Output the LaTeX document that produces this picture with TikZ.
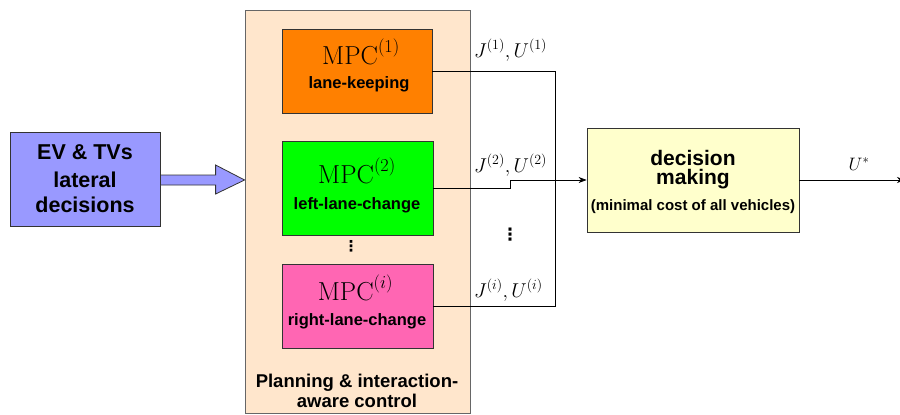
\RequirePackage{fix-cm}
\documentclass[tikz,border=0pt]{standalone}
\usepackage{fontspec}
\setsansfont{Liberation Sans}
\newfontfamily\dejavu{DejaVu Sans}
\usetikzlibrary{arrows.meta,calc}
\definecolor{evblue}{HTML}{9999FF}
\definecolor{planbg}{HTML}{FFE6CC}
\definecolor{mpcorange}{HTML}{FF8000}
\definecolor{mpcgreen}{HTML}{00FF00}
\definecolor{mpcpink}{HTML}{FF66B3}
\definecolor{dmyellow}{HTML}{FFFFCC}
\definecolor{edgegray}{HTML}{333333}
\newcommand\setfs[1]{\fontsize{#1}{#1}\selectfont}
\begin{document}
\begin{tikzpicture}[x=1pt,y=-1pt,
  box/.style={draw=edgegray,line width=0.8pt,inner sep=0pt,minimum width=#1},
  txt/.style={inner sep=0pt,anchor=base},
  bsans/.style={font=\sffamily\bfseries},
  conn/.style={draw=black,line width=0.7pt},
  tip/.style={-{Stealth[length=8pt,width=6pt,inset=2.5pt]}}]
\useasboundingbox (0,0) rectangle (900,415);
% boxes
\node[box=150pt,fill=evblue,minimum height=94pt] (ev) at (85,179) {};
\node[box=225pt,fill=planbg,draw=gray!80!black,minimum height=403pt] (plan) at (357.5,211.5) {};
\node[box=150pt,fill=mpcorange,minimum height=84pt] (mpc1) at (357,71) {};
\node[box=151pt,fill=mpcgreen,minimum height=94pt] (mpc2) at (357.5,188) {};
\node[box=151pt,fill=mpcpink,minimum height=84pt] (mpci) at (357.5,306) {};
\node[box=212pt,fill=dmyellow,minimum height=104pt] (dm) at (693,180) {};
% texts
\node[txt,bsans] (ev1) at (85,159) {\setfs{21.5}EV \& TVs};
\node[txt,bsans] (ev2) at (85,187) {\setfs{21.5}lateral};
\node[txt,bsans] (ev3) at (85,212) {\setfs{21.5}decisions};
\node[txt] (m1a) at (361,64) {\setfs{26}$\mathrm{MPC}^{(1)}$};
\node[txt,bsans] (m1b) at (359,88) {\setfs{16.5}lane-keeping};
\node[txt] (m2a) at (357,183) {\setfs{26}$\mathrm{MPC}^{(2)}$};
\node[txt,bsans] (m2b) at (357,209) {\setfs{16.5}left-lane-change};
\node[txt] (mia) at (355.5,300) {\setfs{26}$\mathrm{MPC}^{(i)}$};
\node[txt,bsans] (mib) at (357,325) {\setfs{16.5}right-lane-change};
\node[txt,bsans] (pl1) at (357,387) {\setfs{18.5}Planning \& interaction-};
\node[txt,bsans] (pl2) at (357,407) {\setfs{18.5}aware control};
\node[txt,bsans] (dm1) at (693,165) {\setfs{21}decision};
\node[txt,bsans] (dm2) at (693,184.5) {\setfs{21}making};
\node[txt,bsans] (dm3) at (693,210) {\setfs{15}(minimal cost of all vehicles)};
\node[inner sep=0pt,font=\dejavu\bfseries] (dots1) at (351,246) {\setfs{15}⋮};
\node[inner sep=0pt,font=\dejavu\bfseries] (dots2) at (510,235) {\setfs{17}⋮};
\node[txt,anchor=base west] (j1) at (474,57) {\setfs{20}$J^{(1)},U^{(1)}$};
\node[txt,anchor=base west] (j2) at (474,172) {\setfs{20}$J^{(2)},U^{(2)}$};
\node[txt,anchor=base west] (ji) at (474,297) {\setfs{20}$J^{(i)},U^{(i)}$};
\node[txt] (us) at (859,170) {\setfs{18}$U^{*}$};
% block arrow
\coordinate (atip) at ($(plan.west|-ev.east)+(0,1)$);
\draw[draw=edgegray,line width=0.8pt,fill=evblue,line join=miter]
  ($(ev.east)+(0,-4)$) -- ($(atip)+(-29,-5)$) -- ($(atip)+(-29,-15)$) -- (atip)
  -- ($(atip)+(-29,14)$) -- ($(atip)+(-29,5)$) -- ($(ev.east)+(0,6)$) -- cycle;
% connectors
\coordinate (rx) at (555,71);
\coordinate (jog) at (510,188);
\coordinate (out) at (905,180);
\draw[conn] (mpc1.east) -- (rx) |- (mpci.east);
\draw[conn,tip] (mpc2.east) -- (jog) |- (dm.west);
\draw[conn,tip] (dm.east) -- (out);
\end{tikzpicture}
\end{document}
